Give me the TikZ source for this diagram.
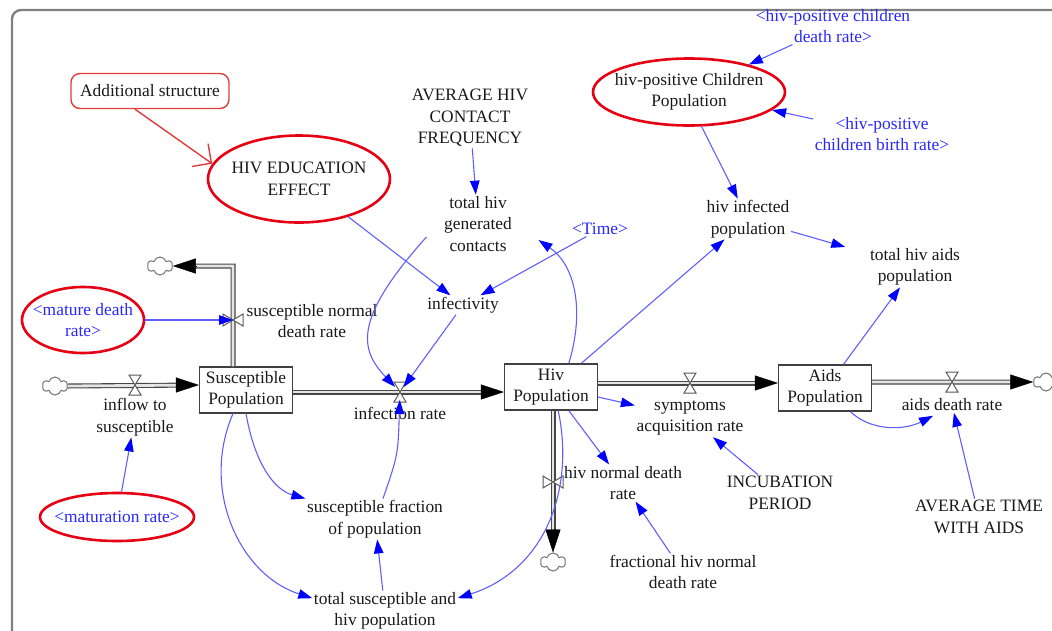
\documentclass[tikz,border=0pt]{standalone}
\usepackage{fontspec}
\setmainfont{Liberation Serif}
\usetikzlibrary{arrows.meta,shapes.geometric,shapes.symbols,calc}
\definecolor{vblue}{RGB}{40,40,255}
\definecolor{lblue}{RGB}{95,95,255}
\definecolor{ablue}{RGB}{0,0,255}
\definecolor{vred}{RGB}{230,0,20}
\definecolor{bred}{RGB}{225,60,60}
\tikzset{
 lbl/.style={font=\fontsize{17.4}{21.5}\selectfont, align=center, inner sep=1.5pt, text=black!90},
 blbl/.style={lbl, text=vblue},
 stock/.style={lbl, draw=black!75, line width=1.2pt, fill=white, minimum width=93pt, minimum height=46pt, inner sep=1pt},
 redell/.style={ellipse, draw=vred, line width=2.6pt, inner xsep=-40pt, inner ysep=-5pt},
 link/.style={draw=lblue, line width=1.1pt, -{Triangle[length=14pt,width=9.5pt,color=ablue]}},
 redlink/.style={draw=bred, line width=1.4pt, -{Straight Barb[length=14pt,width=28pt]}},
 pipe/.style={draw=black!72, line width=1.1pt, double=black!10, double distance=2.8pt, line join=miter},
 pipetip/.style={-{Triangle[length=23pt,width=15pt]}, line width=0.4pt, black},
 cloudsh/.style={cloud, cloud puffs=6, cloud ignores aspect, draw=black!55, line width=1pt, fill=white, minimum width=25pt, minimum height=18pt, inner sep=0pt},
 valve/.pic={\draw[black!65, line width=1pt, fill=white, line join=miter] (-6,-10) -- (6,-10) -- (-6,10) -- (6,10) -- cycle;}
}
\begin{document}
\begin{tikzpicture}[x=1pt,y=-1pt]
\useasboundingbox (0,0) rectangle (1052,630);
\clip (0,0) rectangle (1052,630);
\draw[black!50, line width=2.4pt, rounded corners=9pt] (12,10) rectangle (1080,660);

% stocks
\node[stock] (S) at (246,390) {Susceptible\\Population};
\node[stock] (H) at (551,387) {Hiv\\Population};
\node[stock] (A) at (825,388) {Aids\\Population};

% clouds
\node[cloudsh] (c1) at (55,386) {};
\node[cloudsh] (c2) at (160,266) {};
\node[cloudsh] (c3) at (1046,382) {};
\node[cloudsh] (c4) at (553,562) {};

% valves
\coordinate (v1) at (135,385);
\coordinate (v2) at (233,320);
\coordinate (v3) at (400,392);
\coordinate (v4) at (690,383);
\coordinate (v5) at (952,382);
\coordinate (v6) at (553,482);

% pipes
\coordinate (p1e) at (S.west |- v1);
\draw[pipe, shorten >=21pt] (c1.east) -- (p1e);
\draw[pipetip] ($(p1e)+(-23,0)$) -- (p1e);

\coordinate (p2s) at (S.north -| v2);
\coordinate (p2c) at (v2 |- c2);
\draw[pipe, shorten >=21pt] (p2s) -- (p2c) -- (c2.east);
\draw[pipetip] ($(c2.east)+(23,0)$) -- (c2.east);

\coordinate (p3s) at (S.east |- v3);
\coordinate (p3e) at (H.west |- v3);
\draw[pipe, shorten >=21pt] (p3s) -- (p3e);
\draw[pipetip] ($(p3e)+(-23,0)$) -- (p3e);

\coordinate (p4s) at (H.east |- v4);
\coordinate (p4e) at (A.west |- v4);
\draw[pipe, shorten >=21pt] (p4s) -- (p4e);
\draw[pipetip] ($(p4e)+(-23,0)$) -- (p4e);

\coordinate (p5s) at (A.east |- v5);
\draw[pipe, shorten >=21pt] (p5s) -- (c3.west);
\draw[pipetip] ($(c3.west)+(-23,0)$) -- (c3.west);

\coordinate (p6s) at (H.south -| v6);
\draw[pipe, shorten >=21pt] (p6s) -- (c4.north);
\draw[pipetip] ($(c4.north)+(0,-23)$) -- (c4.north);

\pic at (v1) {valve};
\pic[rotate=90] at (v2) {valve};
\pic at (v3) {valve};
\pic at (v4) {valve};
\pic at (v5) {valve};
\pic[rotate=90] at (v6) {valve};

% labels
\node[lbl, draw=bred, line width=1.4pt, rounded corners=9pt, minimum width=158pt, minimum height=35pt] (addl) at (150,91) {Additional structure};
\node[lbl, redell, minimum width=182pt, minimum height=87pt] (edu) at (299,179) {HIV EDUCATION\\EFFECT};
\node[lbl, redell, minimum width=192pt, minimum height=67pt] (hpc) at (689,92) {hiv-positive Children\\Population};
\node[blbl, redell, minimum width=122pt, minimum height=66pt] (mdr) at (83,320) {\textless mature death\\rate\textgreater};
\node[blbl, redell, minimum width=154pt, minimum height=48pt] (mat) at (117,517) {\textless maturation rate\textgreater};

\node[lbl] (avg) at (470,118) {AVERAGE HIV\\CONTACT\\FREQUENCY};
\node[lbl] (thgc) at (478,224) {total hiv\\generated\\contacts};
\node[blbl] (time) at (600,229) {\textless Time\textgreater};
\node[lbl] (infy) at (463,305) {infectivity};
\node[lbl] (snd) at (312,321) {susceptible normal\\death rate};
\node[lbl] (inflow) at (135,417) {inflow to\\susceptible};
\node[lbl] (infr) at (400,413) {infection rate};
\node[lbl] (sfp) at (375,519) {susceptible fraction\\of population};
\node[lbl] (tsh) at (385,611) {total susceptible and\\hiv population};
\node[lbl] (sar) at (690,418) {symptoms\\acquisition rate};
\node[lbl] (hndr) at (623,483) {hiv normal death\\rate};
\node[lbl] (fhndr) at (683,572) {fractional hiv normal\\death rate};
\node[lbl] (inc) at (780,493) {INCUBATION\\PERIOD};
\node[lbl] (atwa) at (979,517) {AVERAGE TIME\\WITH AIDS};
\node[lbl] (adr) at (952,405) {aids death rate};
\node[lbl] (hip) at (748,219) {hiv infected\\population};
\node[lbl] (thap) at (915,267) {total hiv aids\\population};
\node[blbl] (hpcdr) at (833,26) {\textless hiv-positive children\\death rate\textgreater};
\node[blbl] (hpcbr) at (882,134) {\textless hiv-positive\\children birth rate\textgreater};

% connectors
\draw[redlink] ([xshift=-15pt]addl.south) -- (edu.170);
\draw[link] (avg) -- (thgc);
\draw[link] (time) -- (infy);
\draw[link] (edu) -- (infy);
\draw[link, shorten >=7pt] ([xshift=-16pt]thgc.200) .. controls (352,320) and (360,350) .. (v3);
\draw[link, shorten >=6pt] (infy) -- (v3);
\draw[link, shorten >=8pt] ([xshift=8pt]sfp.north) .. controls (398,455) .. (v3);
\draw[link] (H.53) .. controls (585,310) and (575,265) .. ($(thgc.east)+(25,16)$);
\draw[link] (H.38) -- (hip);
\draw[link] (H.-12) -- (sar);
\draw[link] (H.-53) -- (hndr);
\draw[link] (H.-73) .. controls (575,490) and (545,570) .. (tsh.10);
\draw[link] (fhndr) -- (hndr);
\draw[link] (inc) -- (sar);
\draw[link] (A.52) -- (thap);
\draw[link] (A.-43) .. controls (872,432) and (905,430) .. ($(adr.south)+(-19,3)$);
\draw[link] (atwa) -- (adr);
\draw[link] (hpc.-70) -- (hip);
\draw[link] (hpcdr) -- (hpc);
\draw[link] (hpcbr) -- (hpc);
\draw[link, shorten >=24pt] (hip) -- (thap);
\draw[link] (mat) -- (inflow);
\draw[link] (mdr) -- (v2);
\draw[link] (S.south) .. controls (255,465) and (275,490) .. (sfp.north west);
\draw[link] ([xshift=-13pt]S.south) .. controls (200,490) and (240,575) .. (tsh.170);
\draw[link] (tsh) -- (sfp);
\end{tikzpicture}
\end{document}
